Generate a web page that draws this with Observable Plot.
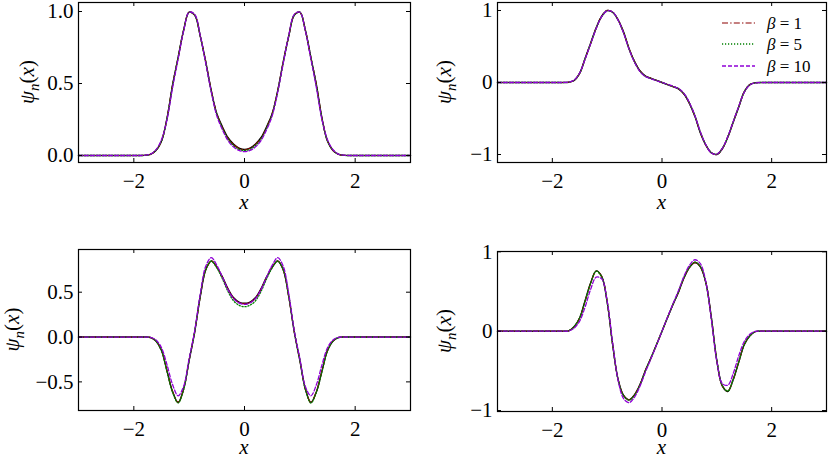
<!DOCTYPE html>
<html><head><meta charset="utf-8">
<script src="https://cdn.jsdelivr.net/npm/d3@7"></script>
<script src="https://cdn.jsdelivr.net/npm/@observablehq/plot@0.6"></script>
<style>
body{margin:0;background:#fff;}
#chart{position:relative;width:830px;height:458px;background:#fff;font-family:"Liberation Serif","DejaVu Serif",serif;}
#chart svg, #chart svg text, #chart svg tspan{font-family:"Liberation Serif","DejaVu Serif",serif !important;}
</style></head><body><div id="chart"></div>
<script>
// ---------- data ----------
const xGrid = [-3,-2,-1.9,-1.8,-1.7,-1.6,-1.5,-1.4,-1.3,-1.2,-1.1,-1,-0.9,-0.8,-0.7,-0.6,-0.5,-0.4,-0.3,-0.2,-0.1,0,
  0.1,0.2,0.3,0.4,0.5,0.6,0.7,0.8,0.9,1,1.1,1.2,1.3,1.4,1.5,1.6,1.7,1.8,1.9,2,3];

// top-left panel (n = 0)
const tlExact = [0,0,0,0.001,0.008,0.035,0.10,0.26,0.49,0.68,0.87,0.995,0.975,0.83,0.65,0.45,0.29,0.20,0.125,0.08,0.052,0.042,
  0.052,0.08,0.125,0.20,0.29,0.45,0.65,0.83,0.975,0.995,0.87,0.68,0.49,0.26,0.10,0.035,0.008,0.001,0,0,0];
const tlBeta1 = [0,0,0,0.001,0.008,0.034,0.10,0.26,0.49,0.68,0.87,0.995,0.975,0.83,0.65,0.45,0.29,0.195,0.12,0.078,0.05,0.04,
  0.05,0.078,0.12,0.195,0.29,0.45,0.65,0.83,0.975,0.995,0.87,0.68,0.49,0.26,0.10,0.034,0.008,0.001,0,0,0];
const tlBeta5 = [0,0,0,0.001,0.009,0.036,0.10,0.255,0.485,0.68,0.87,0.995,0.975,0.83,0.645,0.445,0.285,0.19,0.115,0.07,0.043,0.035,
  0.043,0.07,0.115,0.19,0.285,0.445,0.645,0.83,0.975,0.995,0.87,0.68,0.485,0.255,0.10,0.036,0.009,0.001,0,0,0];
const tlBeta10 = [0,0,0,0.002,0.01,0.04,0.11,0.25,0.47,0.67,0.865,0.995,0.98,0.835,0.64,0.44,0.275,0.18,0.105,0.06,0.035,0.027,
  0.035,0.06,0.105,0.18,0.275,0.44,0.64,0.835,0.98,0.995,0.865,0.67,0.47,0.25,0.11,0.04,0.01,0.002,0,0,0];

// top-right panel (n = 1)
const trExact = [0,0,0,0,0.004,0.03,0.13,0.34,0.55,0.76,0.92,1.0,0.975,0.87,0.70,0.47,0.29,0.16,0.088,0.058,0.03,0,
  -0.03,-0.058,-0.088,-0.16,-0.29,-0.47,-0.70,-0.87,-0.975,-1.0,-0.92,-0.76,-0.55,-0.34,-0.13,-0.03,-0.004,0,0,0,0];
const trBeta1 = [0,0,0,0,0.004,0.03,0.13,0.335,0.545,0.755,0.92,1.0,0.975,0.87,0.695,0.47,0.29,0.16,0.088,0.058,0.03,0,
  -0.03,-0.058,-0.088,-0.16,-0.29,-0.47,-0.695,-0.87,-0.975,-1.0,-0.92,-0.755,-0.545,-0.335,-0.13,-0.03,-0.004,0,0,0,0];
const trBeta5 = [0,0,0,0,0.005,0.032,0.13,0.335,0.545,0.755,0.915,0.995,0.975,0.865,0.69,0.465,0.285,0.155,0.085,0.055,0.028,0,
  -0.028,-0.055,-0.085,-0.155,-0.285,-0.465,-0.69,-0.865,-0.975,-0.995,-0.915,-0.755,-0.545,-0.335,-0.13,-0.032,-0.005,0,0,0,0];
const trBeta10 = [0,0,0,0.001,0.006,0.035,0.135,0.33,0.54,0.75,0.915,0.995,0.98,0.865,0.685,0.46,0.28,0.15,0.082,0.052,0.026,0,
  -0.026,-0.052,-0.082,-0.15,-0.28,-0.46,-0.685,-0.865,-0.98,-0.995,-0.915,-0.75,-0.54,-0.33,-0.135,-0.035,-0.006,-0.001,0,0,0];

// bottom-left panel (n = 2)
const blExact = [0,0,0,0,-0.005,-0.045,-0.15,-0.38,-0.61,-0.73,-0.58,-0.26,0.056,0.45,0.75,0.848,0.78,0.67,0.54,0.44,0.39,0.376,
  0.39,0.44,0.54,0.67,0.78,0.848,0.75,0.45,0.056,-0.26,-0.58,-0.73,-0.61,-0.38,-0.15,-0.045,-0.005,0,0,0,0];
const blBeta1 = [0,0,0,0,-0.005,-0.044,-0.15,-0.375,-0.605,-0.728,-0.58,-0.255,0.058,0.45,0.75,0.846,0.78,0.665,0.535,0.435,0.385,0.372,
  0.385,0.435,0.535,0.665,0.78,0.846,0.75,0.45,0.058,-0.255,-0.58,-0.728,-0.605,-0.375,-0.15,-0.044,-0.005,0,0,0,0];
const blBeta5 = [0,0,0,0,-0.005,-0.046,-0.155,-0.385,-0.615,-0.735,-0.585,-0.255,0.06,0.455,0.75,0.845,0.77,0.65,0.51,0.405,0.355,0.338,
  0.355,0.405,0.51,0.65,0.77,0.845,0.75,0.455,0.06,-0.255,-0.585,-0.735,-0.615,-0.385,-0.155,-0.046,-0.005,0,0,0,0];
const blBeta10 = [0,0,0,0,-0.003,-0.032,-0.12,-0.31,-0.53,-0.655,-0.55,-0.24,0.07,0.48,0.79,0.885,0.80,0.67,0.53,0.43,0.38,0.365,
  0.38,0.43,0.53,0.67,0.80,0.885,0.79,0.48,0.07,-0.24,-0.55,-0.655,-0.53,-0.31,-0.12,-0.032,-0.003,0,0,0,0];

// bottom-right panel (n = 3)
const brExact = [0,0,0,0,0.005,0.06,0.17,0.39,0.61,0.76,0.69,0.37,-0.17,-0.61,-0.81,-0.865,-0.80,-0.67,-0.49,-0.335,-0.17,0,
  0.17,0.335,0.49,0.67,0.80,0.865,0.81,0.61,0.17,-0.37,-0.69,-0.76,-0.61,-0.39,-0.17,-0.06,-0.005,0,0,0,0];
const brBeta1 = [0,0,0,0,0.005,0.058,0.168,0.385,0.605,0.755,0.69,0.37,-0.17,-0.61,-0.81,-0.865,-0.80,-0.67,-0.49,-0.335,-0.17,0,
  0.17,0.335,0.49,0.67,0.80,0.865,0.81,0.61,0.17,-0.37,-0.69,-0.755,-0.605,-0.385,-0.168,-0.058,-0.005,0,0,0,0];
const brBeta5 = [0,0,0,0,0.006,0.06,0.17,0.385,0.605,0.755,0.685,0.365,-0.17,-0.61,-0.815,-0.87,-0.805,-0.675,-0.495,-0.335,-0.17,0,
  0.17,0.335,0.495,0.675,0.805,0.87,0.815,0.61,0.17,-0.365,-0.685,-0.755,-0.605,-0.385,-0.17,-0.06,-0.006,0,0,0,0];
const brBeta10 = [0,0,0,0,0.003,0.04,0.13,0.31,0.53,0.68,0.66,0.38,-0.15,-0.62,-0.85,-0.90,-0.83,-0.69,-0.51,-0.345,-0.175,0,
  0.175,0.345,0.51,0.69,0.83,0.90,0.85,0.62,0.15,-0.38,-0.66,-0.68,-0.53,-0.31,-0.13,-0.04,-0.003,0,0,0,0];

const betaLabels = ["1", "5", "10"];
const xTicks = [-2, 0, 2];
const tlYTicks = [0, 0.5, 1];
const trYTicks = [-1, 0, 1];
const blYTicks = [-0.5, 0, 0.5];
const brYTicks = [-1, 0, 1];

// ---------- styles ----------
const FONT = '"Liberation Serif", "DejaVu Serif", serif';
const styles = [
  {stroke: "#000000", width: 1.4, dash: null},
  {stroke: "#8b0000", width: 1.2, dash: "6,2.2,1.4,2.2"},
  {stroke: "#008000", width: 1.3, dash: "1.2,1.8"},
  {stroke: "#8f00d6", width: 1.3, dash: "4,2"}
];

const chart = document.getElementById("chart");
const W = 415, H = 229;

function makePanel(o) {
  const frameW = W - o.mL - o.mR, frameH = H - o.mT - o.mB;
  const marks = [];
  o.series.forEach((vals, k) => {
    const data = xGrid.map((x, i) => ({x, y: vals[i]}));
    const st = styles[k];
    marks.push(Plot.line(data, {x: "x", y: "y", curve: "catmull-rom", stroke: st.stroke,
      strokeWidth: st.width, strokeDasharray: st.dash || undefined}));
  });
  marks.push(Plot.ruleX(xTicks, {insetTop: frameH - 4, stroke: "black", strokeWidth: 1}));
  marks.push(Plot.ruleX(xTicks, {insetBottom: frameH - 4, stroke: "black", strokeWidth: 1}));
  marks.push(Plot.ruleY(o.yTicks, {insetRight: frameW - 4, stroke: "black", strokeWidth: 1}));
  marks.push(Plot.ruleY(o.yTicks, {insetLeft: frameW - 4, stroke: "black", strokeWidth: 1}));
  marks.push(Plot.frame({stroke: "black", strokeWidth: 1.2}));
  marks.push(Plot.axisX(xTicks, {tickSize: 0, tickPadding: 11, tickFormat: d3.format("d"), fontSize: 21, label: null}));
  marks.push(Plot.axisY(o.yTicks, {tickSize: 0, tickPadding: 5, tickFormat: d3.format(o.yFmt), fontSize: 21, label: null}));
  const svg = Plot.plot({
    width: W, height: H,
    marginLeft: o.mL, marginRight: o.mR, marginTop: o.mT, marginBottom: o.mB,
    x: {domain: [-3, 3]},
    y: {domain: o.yDomain},
    style: {fontFamily: FONT, color: "black", background: "white", overflow: "visible"},
    marks
  });
  svg.style.position = "absolute";
  svg.style.left = o.left + "px";
  svg.style.top = o.top + "px";
  const s = d3.select(svg);
  // x label
  s.append("text").attr("x", o.mL + frameW / 2).attr("y", o.xLabelY)
    .attr("text-anchor", "middle").style("font-family", FONT).attr("font-size", 21)
    .attr("font-style", "italic").attr("fill", "black").text("x");
  // y label
  const t = s.append("text")
    .attr("transform", `translate(${o.yLabelX},${o.mT + frameH / 2}) rotate(-90)`)
    .attr("text-anchor", "middle").style("font-family", FONT).attr("font-size", 21).attr("fill", "black");
  t.append("tspan").attr("font-style", "italic").text("ψ");
  t.append("tspan").attr("font-style", "italic").attr("font-size", 15).attr("dy", 5).text("n");
  t.append("tspan").attr("dy", -5).text("(");
  t.append("tspan").attr("font-style", "italic").text("x");
  t.append("tspan").text(")");
  chart.appendChild(svg);
  return s;
}

makePanel({left: 0, top: 0, mL: 78, mR: 5, mT: 2, mB: 67, yDomain: [-0.0486, 1.0625],
  yTicks: tlYTicks, yFmt: ".1f", series: [tlExact, tlBeta1, tlBeta5, tlBeta10], xLabelY: 209, yLabelX: 34});
const tr = makePanel({left: 415, top: 0, mL: 82, mR: 4, mT: 2, mB: 67, yDomain: [-1.111, 1.111],
  yTicks: trYTicks, yFmt: "d", series: [trExact, trBeta1, trBeta5, trBeta10], xLabelY: 209, yLabelX: 36});
makePanel({left: 0, top: 229, mL: 78, mR: 5, mT: 20, mB: 48, yDomain: [-0.819, 0.976],
  yTicks: blYTicks, yFmt: ".1f", series: [blExact, blBeta1, blBeta5, blBeta10], xLabelY: 225, yLabelX: 19});
makePanel({left: 415, top: 229, mL: 82, mR: 4, mT: 22, mB: 47, yDomain: [-1.012, 1.004],
  yTicks: brYTicks, yFmt: "d", series: [brExact, brBeta1, brBeta5, brBeta10], xLabelY: 225, yLabelX: 36});

// legend inside top-right panel
const legendY = [23, 44, 66];
betaLabels.forEach((b, i) => {
  const st = styles[i + 1];
  tr.append("line").attr("x1", 307).attr("x2", 340).attr("y1", legendY[i]).attr("y2", legendY[i])
    .attr("stroke", st.stroke).attr("stroke-width", st.width).attr("stroke-dasharray", st.dash);
  const tx = tr.append("text").attr("x", 352).attr("y", legendY[i] + 5.5)
    .attr("text-anchor", "start")
    .style("font-family", FONT).attr("font-size", 17).attr("fill", "black");
  tx.append("tspan").attr("font-style", "italic").text("β");
  tx.append("tspan").text(" = " + b);
});
</script></body></html>
